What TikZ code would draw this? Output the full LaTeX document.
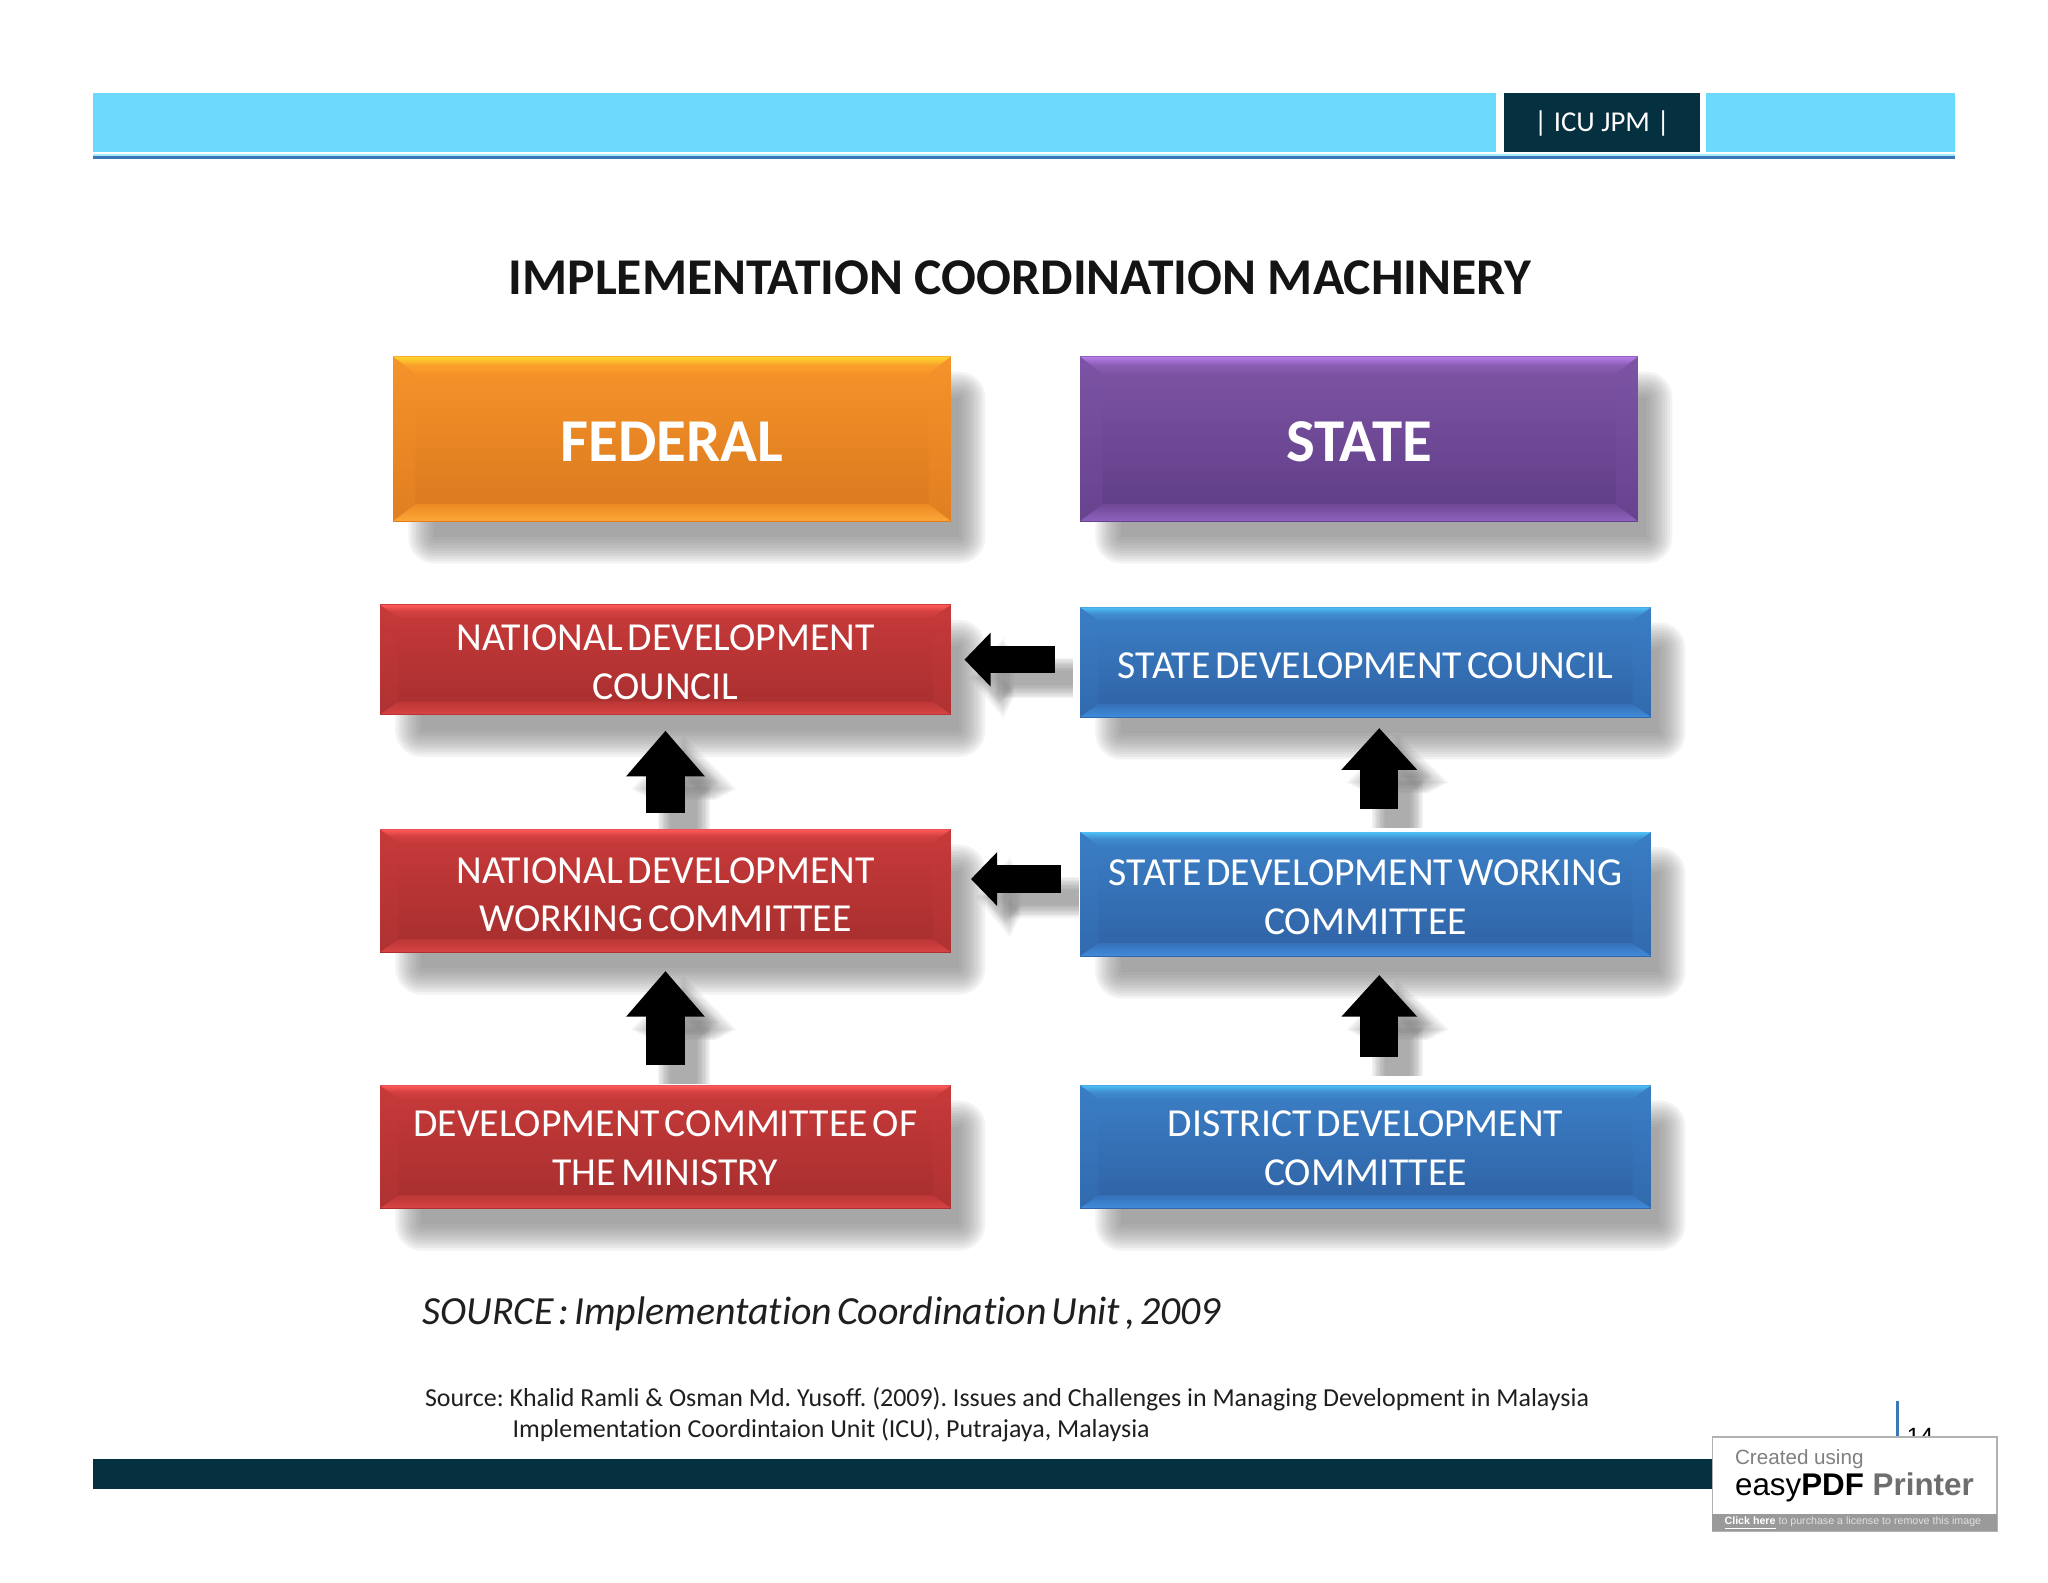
\documentclass[tikz,border=0pt]{standalone}
\usepackage{fontspec}
\setmainfont[Ligatures=NoCommon]{Carlito}
\newfontfamily\boxfont[WordSpace=0.55,Ligatures=NoCommon]{Carlito}
\newfontfamily\wmfont{Liberation Sans}
\usetikzlibrary{arrows.meta,calc}
\pgfdeclarelayer{bg}
\pgfsetlayers{bg,main}
\definecolor{barblue}{HTML}{6BDAFC}
\definecolor{darkteal}{HTML}{05303F}
\definecolor{lineblue}{HTML}{3A78B8}
\definecolor{shadowgray}{HTML}{7C7C7C}
\definecolor{wmgray}{HTML}{6E6E6E}
\definecolor{stripgray}{HTML}{9A9A9A}
\definecolor{orgA}{HTML}{FFD62E}\definecolor{orgB}{HTML}{F8942A}\definecolor{orgC}{HTML}{D8781E}\definecolor{orgD}{HTML}{EE8A24}\definecolor{orgE}{HTML}{FBA838}\definecolor{orgF}{HTML}{F4902A}
\definecolor{purA}{HTML}{B77CE8}\definecolor{purB}{HTML}{7E55A6}\definecolor{purC}{HTML}{5F3D86}\definecolor{purD}{HTML}{6E4896}\definecolor{purE}{HTML}{8E62BE}\definecolor{purF}{HTML}{7A52A4}
\definecolor{redA}{HTML}{FF5A5A}\definecolor{redB}{HTML}{C83A3A}\definecolor{redC}{HTML}{A62E2E}\definecolor{redD}{HTML}{BC3636}\definecolor{redE}{HTML}{D84444}\definecolor{redF}{HTML}{C43A3A}
\definecolor{bluA}{HTML}{4FC0F4}\definecolor{bluB}{HTML}{3B7FC6}\definecolor{bluC}{HTML}{2F62A4}\definecolor{bluD}{HTML}{3570B8}\definecolor{bluE}{HTML}{3F8CDA}\definecolor{bluF}{HTML}{3A7CC4}
\tikzset{
  x=0.5pt,y=-0.5pt,
}
\newcommand\bevelnode[5]{\def\bnName{#1}%
  \coordinate (bnA) at (#2,#3);\coordinate (bnB) at (#4,#5);\bevelnodeB}
\newcommand\bevelnodeB[5]{%
  \path let \p1=($(bnB)-(bnA)$), \n1={abs(\x1)}, \n2={abs(\y1)} in
  node[inner sep=0pt,align=center,text=white,font=#4,minimum width=\n1,minimum height=\n2,
    path picture={
      \shade[top color=#1B,bottom color=#1C] (path picture bounding box.south west) rectangle (path picture bounding box.north east);
      \fill[#1F,opacity=0.3]
        (path picture bounding box.south west) -- (path picture bounding box.north west)
        -- ([xshift=#2*0.5pt,yshift=-#3*0.5pt]path picture bounding box.north west)
        -- ([xshift=#2*0.5pt,yshift=#3*0.5pt]path picture bounding box.south west) -- cycle;
      \fill[#1F,opacity=0.3]
        (path picture bounding box.south east) -- (path picture bounding box.north east)
        -- ([xshift=-#2*0.5pt,yshift=-#3*0.5pt]path picture bounding box.north east)
        -- ([xshift=-#2*0.5pt,yshift=#3*0.5pt]path picture bounding box.south east) -- cycle;
      \shade[top color=#1A,bottom color=#1B,middle color=#1B!80!#1A]
        (path picture bounding box.north west) -- (path picture bounding box.north east)
        -- ([xshift=-#2*0.5pt,yshift=-#3*0.5pt]path picture bounding box.north east)
        -- ([xshift=#2*0.5pt,yshift=-#3*0.5pt]path picture bounding box.north west) -- cycle;
      \shade[top color=#1D,bottom color=#1E]
        (path picture bounding box.south west) -- (path picture bounding box.south east)
        -- ([xshift=-#2*0.5pt,yshift=#3*0.5pt]path picture bounding box.south east)
        -- ([xshift=#2*0.5pt,yshift=#3*0.5pt]path picture bounding box.south west) -- cycle;
    }] (\bnName) at ($(bnA)!0.5!(bnB)$) {\raisebox{\bnRaise}[0pt][0pt]{\begin{tabular}{@{}c@{}}#5\end{tabular}}};
  \begin{pgfonlayer}{bg}
    \foreach \e in {0,1,...,10}{
      \fill[shadowgray,opacity=0.09,rounded corners=\e pt]
        ([xshift=16pt-\e pt,yshift=-16pt+\e pt]\bnName.north west) rectangle ([xshift=3pt+\e pt,yshift=-6pt-\e pt]\bnName.south east);}
  \end{pgfonlayer}
}
\newcommand\blockconn[5]{%
  \begin{pgfonlayer}{bg}
    \foreach \w in {20,18,...,0}{
      \pgfmathsetmacro\lw{(#3+\w-10)*0.5}\pgfmathsetmacro\hw{(#4+\w*1.5-10)*0.5}\pgfmathsetmacro\hl{(#5+\w*0.6-6)*0.5}\pgfmathsetmacro\ex{\w*0.5-5}
      \draw[opacity=0.08,draw=shadowgray,line width=\lw pt,shorten >=-\ex pt,-{Triangle[length=\hl pt,width=\hw pt]}]
        ([xshift=7pt,yshift=-7pt]#1) -- ([xshift=7pt,yshift=-7pt]#2);}
  \end{pgfonlayer}
  \pgfmathsetmacro\lw{#3*0.5}\pgfmathsetmacro\hw{#4*0.5}\pgfmathsetmacro\hl{#5*0.5}
  \draw[black,line width=\lw pt,-{Triangle[length=\hl pt,width=\hw pt]}] (#1) -- (#2);
}
\frenchspacing
\begin{document}
\begin{tikzpicture}
\useasboundingbox (0,0) rectangle (1568,1211.3);
\begin{pgfonlayer}{bg}
\fill[white] (0,0) rectangle (1568,1211.3);
\end{pgfonlayer}
% header
\fill[barblue] (71,71) rectangle (1145,116);
\fill[barblue] (1306,71) rectangle (1497,116);
\node[fill=darkteal,text=white,inner sep=0pt,minimum width=75pt,minimum height=22.5pt,font=\fontsize{11}{13}\selectfont] (tag) at (1226.5,93.5) {\raisebox{-3.6pt}[0pt][0pt]{| ICU JPM |}};
\fill[barblue!60] (71,118) rectangle (1497,119.5);
\fill[lineblue] (71,119.5) rectangle (1497,122);
% title
\node[inner sep=0pt,text=black!92,font=\fontsize{19.75}{24}\selectfont\bfseries] (title) at (781,212.5) {IMPLEMENTATION COORDINATION MACHINERY};
% boxes
\def\bigf{\boxfont\fontsize{23.3}{26}\selectfont\bfseries}
\def\smf{\boxfont\fontsize{15.2}{18.5}\selectfont}
\def\bnRaise{-9.8pt}
\bevelnode{fed}{301}{273}{728}{399}{org}{17}{13}{\bigf}{FEDERAL}
\bevelnode{sta}{827}{273}{1254}{399}{pur}{17}{13}{\bigf}{STATE}
\def\bnRaise{-5.8pt}
\bevelnode{ndc}{291}{463}{728}{547}{red}{14}{10}{\smf}{NATIONAL DEVELOPMENT\\COUNCIL}
\def\bnRaise{-6.3pt}
\bevelnode{sdc}{827}{465}{1264}{549}{blu}{14}{10}{\smf}{STATE DEVELOPMENT COUNCIL}
\bevelnode{ndw}{291}{635}{728}{729}{red}{14}{10}{\smf}{NATIONAL DEVELOPMENT\\WORKING COMMITTEE}
\def\bnRaise{-6pt}
\bevelnode{sdw}{827}{637}{1264}{732}{blu}{14}{10}{\smf}{STATE DEVELOPMENT WORKING\\COMMITTEE}
\def\bnRaise{-5.3pt}
\bevelnode{dcm}{291}{831}{728}{925}{red}{14}{10}{\smf}{DEVELOPMENT COMMITTEE OF\\THE MINISTRY}
\bevelnode{ddc}{827}{831}{1264}{925}{blu}{14}{10}{\smf}{DISTRICT DEVELOPMENT\\COMMITTEE}
% arrow ends
\coordinate (a1s) at ([yshift=7.5pt]dcm.north);
\coordinate (a1t) at ([yshift=-7pt]ndw.south);
\coordinate (a2s) at ([yshift=6pt]ndw.north);
\coordinate (a2t) at ([yshift=-6pt]ndc.south);
\coordinate (a3s) at ([xshift=5.25pt,yshift=10.5pt]ddc.north);
\coordinate (a3t) at ([xshift=5.25pt,yshift=-7pt]sdw.south);
\coordinate (a4s) at ([xshift=5.25pt,yshift=8.5pt]sdw.north);
\coordinate (a4t) at ([xshift=5.25pt,yshift=-4pt]sdc.south);
\coordinate (a5s) at ([xshift=-9.5pt,yshift=1pt]sdc.west);
\coordinate (a5t) at ([xshift=5pt]ndc.east);
\coordinate (a6s) at ([xshift=-7.3pt,yshift=5.75pt]sdw.west);
\coordinate (a6t) at ([xshift=7.5pt,yshift=4.5pt]ndw.east);
\blockconn{a1s}{a1t}{30}{58}{35}
\blockconn{a2s}{a2t}{30}{58}{35}
\blockconn{a3s}{a3t}{29}{56}{32}
\blockconn{a4s}{a4t}{29}{56}{32}
\blockconn{a5s}{a5t}{21}{40}{20}
\blockconn{a6s}{a6t}{21}{40}{20}
% source lines
\node[anchor=west,inner sep=0pt,text=black!88,font=\boxfont\fontsize{15.27}{18}\selectfont\itshape] (src) at (323,1006) {SOURCE : Implementation Coordination Unit , 2009};
\node[anchor=west,inner sep=0pt,text=black!88,font=\fontsize{9.93}{12}\selectfont] (cite1) at (325,1071) {Source: Khalid Ramli \& Osman Md. Yusoff. (2009). Issues and Challenges in Managing Development in Malaysia};
\node[anchor=west,inner sep=0pt,text=black!88,font=\fontsize{9.93}{12}\selectfont] (cite2) at (392,1095) {Implementation Coordintaion Unit (ICU), Putrajaya, Malaysia};
% footer
\fill[darkteal] (71,1117) rectangle (1311,1140);
\draw[lineblue,line width=1pt] (1452.6,1073) -- (1452.6,1100);
\node[anchor=base,inner sep=0pt,font=\wmfont\fontsize{9}{11}\selectfont] (pageno) at (1470,1105.6) {14};
% watermark
\draw[fill=white,draw=black!30,line width=0.6pt] (1311,1100) rectangle (1529,1172);
\fill[stripgray] (1311,1159) rectangle (1529,1172);
\node[anchor=west,inner sep=0pt,text=black!50,font=\wmfont\fontsize{7.9}{9}\selectfont] (wm1) at (1328,1117.5) {Created using};
\node[anchor=west,inner sep=0pt,font=\wmfont\fontsize{12}{14}\selectfont] (wm2) at (1328,1139) {easy\textbf{PDF} \textcolor{wmgray}{\textbf{Printer}}};
\node[anchor=west,inner sep=0pt,text=white!88!black,font=\wmfont\fontsize{4.08}{5}\selectfont] (wm3) at (1320,1166.5) {\textcolor{white}{\underline{\textbf{Click here}}} to purchase a license to remove this image};
\end{tikzpicture}
\end{document}
